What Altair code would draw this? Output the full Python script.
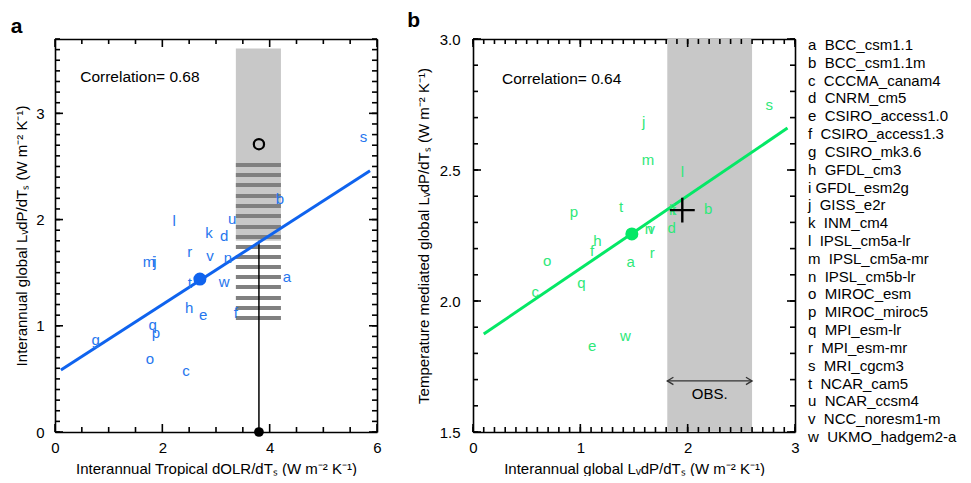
import altair as alt
import pandas as pd

FONT = "Liberation Sans"
BLUE_LINE = "#0f63ee"
BLUE_TXT = "#2676ee"
GREEN_LINE = "#05e866"
GREEN_TXT = "#2ee879"
BAND = "#c8c8c8"
STRIPE = "#808080"

letters = list("abcdefghijklmnopqrstuvw")
models = ["BCC_csm1.1", "BCC_csm1.1m", "CCCMA_canam4", "CNRM_cm5", "CSIRO_access1.0",
          "CSIRO_access1.3", "CSIRO_mk3.6", "GFDL_cm3", "GFDL_esm2g", "GISS_e2r", "INM_cm4",
          "IPSL_cm5a-lr", "IPSL_cm5a-mr", "IPSL_cm5b-lr", "MIROC_esm", "MIROC_miroc5",
          "MPI_esm-lr", "MPI_esm-mr", "MRI_cgcm3", "NCAR_cam5", "NCAR_ccsm4", "NCC_noresm1-m",
          "UKMO_hadgem2-a"]

# Panel a: interannual tropical dOLR/dTs vs interannual global LvdP/dTs
a_olr = [4.32, 4.19, 2.44, 3.15, 2.76, 3.37, 0.76, 2.50, 1.84, 1.86, 2.87, 2.22,
         1.75, 3.22, 1.77, 1.88, 1.82, 2.51, 5.75, 2.51, 3.30, 2.89, 3.15]
a_dp = [1.46, 2.19, 0.57, 1.85, 1.10, 1.12, 0.87, 1.17, 1.60, 1.60, 1.87, 1.99,
        1.60, 1.64, 0.69, 0.93, 1.01, 1.69, 2.78, 1.40, 2.01, 1.66, 1.41]
a_line_x = [0.11, 5.87]
a_line_y = [0.584, 2.46]
a_mean = [2.70, 1.44]
a_obs_x = 3.80
a_obs_circle_y = 2.71
a_obs_cross_y = 1.80
a_band_x = [3.37, 4.21]
a_band_y = [1.80, 3.61]
a_stripe_y = [2.514, 2.420, 2.326, 2.222, 2.128, 2.034, 1.930, 1.836, 1.742, 1.648,
              1.554, 1.460, 1.365, 1.262, 1.168, 1.073]
a_corr = "Correlation= 0.68"
a_corr_pos = [0.47, 3.34]

# Panel b: interannual global LvdP/dTs vs temperature mediated LvdP/dTs
b_dp = [1.47, 2.19, 0.58, 1.85, 1.11, 1.11, None, 1.16, 1.87, 1.59, 1.86, 1.95,
        1.63, 1.64, 0.69, 0.94, 1.01, 1.67, 2.76, 1.38, None, 1.66, 1.42]
b_temp = [2.149, 2.351, 2.034, 2.279, 1.828, 2.190, None, 2.229, 2.347, 2.683, 2.347, 2.492,
          2.538, 2.275, 2.153, 2.340, 2.069, 2.183, 2.748, 2.359, None, 2.275, 1.866]
b_line_x = [0.10, 2.93]
b_line_y = [1.874, 2.66]
b_mean = [1.48, 2.256]
b_obs = [1.95, 2.347]
b_band_x = [1.81, 2.60]
b_arrow_y = 1.695
b_obs_text_y = 1.645
b_corr = "Correlation= 0.64"
b_corr_pos = [0.27, 2.847]

xa_major = [0, 2, 4, 6]
xa_minor = [0.5, 1, 1.5, 2.5, 3, 3.5, 4.5, 5, 5.5]
ya_major = [0, 1, 2, 3]
ya_minor = [round(i * 0.1, 1) for i in range(38)]
xb_major = [0, 1, 2, 3]
xb_minor = [round(i * 0.1, 1) for i in range(31)]
yb_major = [1.5, 2.0, 2.5, 3.0]
yb_minor = [round(1.5 + i * 0.1, 1) for i in range(16)]

XA_TITLE = "Interannual Tropical dOLR/dTₛ (W m⁻² K⁻¹)"
YA_TITLE = "Interannual global LᵥdP/dTₛ (W m⁻² K⁻¹)"
XB_TITLE = "Interannual global LᵥdP/dTₛ (W m⁻² K⁻¹)"
YB_TITLE = "Temperature mediated global LᵥdP/dTₛ (W m⁻² K⁻¹)"

W, H = 322, 393
LS = 15  # label font size
MAJ, MIN = 8, 5
TW = 1.6


def label_axis(orient, vals, title, fmt=None, lpad=0, tpad=0):
    p = dict(orient=orient, values=vals, grid=False, ticks=False, domain=True,
             domainColor="black", domainWidth=1.6, labels=True,
             labelFont=FONT, labelFontSize=LS, labelColor="black",
             labelPadding=lpad, labelFlush=False,
             title=title, titleFont=FONT, titleFontSize=15, titleColor="black",
             titleFontWeight="normal", titlePadding=tpad)
    if fmt:
        p["format"] = fmt
    return alt.Axis(**p)


def frame_axis(orient):
    return alt.Axis(orient=orient, ticks=False, labels=False, grid=False, domain=True,
                    domainColor="black", domainWidth=1.6, title=None)


def tick_layers(xmaj, xmin, ymaj, ymin, XS, YS):
    out = []
    for vals, ln in [(xmin, MIN), (xmaj, MAJ)]:
        df = pd.DataFrame({"tv": vals})
        out.append(alt.Chart(df).mark_rule(color="black", strokeWidth=TW).encode(
            x=alt.X("tv:Q", scale=XS, axis=None), y=alt.value(H), y2=alt.value(H - ln)))
        out.append(alt.Chart(df).mark_rule(color="black", strokeWidth=TW).encode(
            x=alt.X("tv:Q", scale=XS, axis=None), y=alt.value(0), y2=alt.value(ln)))
    for vals, ln in [(ymin, MIN), (ymaj, MAJ)]:
        df = pd.DataFrame({"tv": vals})
        out.append(alt.Chart(df).mark_rule(color="black", strokeWidth=TW).encode(
            y=alt.Y("tv:Q", scale=YS, axis=None), x=alt.value(0), x2=alt.value(ln)))
        out.append(alt.Chart(df).mark_rule(color="black", strokeWidth=TW).encode(
            y=alt.Y("tv:Q", scale=YS, axis=None), x=alt.value(W), x2=alt.value(W - ln)))
    return out


def panel_title(t, color="black", dx=0):
    return alt.TitleParams(t, anchor="start", frame="bounds", fontSize=21, fontWeight="bold",
                           font=FONT, color=color, offset=1, dx=dx)


NOSTROKE = alt.ViewBackground(strokeWidth=0)

# ---------------- panel a ----------------
XA = alt.Scale(domain=[0, 6], nice=False, zero=False)
YA = alt.Scale(domain=[0, 3.7], nice=False, zero=False)

pts_a = pd.DataFrame({"letter": letters, "x": a_olr, "y": a_dp})
band_a_df = pd.DataFrame({"x": [a_band_x[0]], "x2": [a_band_x[1]], "y": [a_band_y[0]], "y2": [a_band_y[1]]})
stripes_df = pd.DataFrame({"y": a_stripe_y, "x": a_band_x[0], "x2": a_band_x[1]})
line_a_df = pd.DataFrame({"x": a_line_x, "y": a_line_y})

band_a = alt.Chart(band_a_df).mark_rect(color=BAND).encode(
    x=alt.X("x:Q", scale=XA, axis=label_axis("bottom", xa_major, XA_TITLE, lpad=8, tpad=6)),
    x2="x2:Q",
    y=alt.Y("y:Q", scale=YA, axis=label_axis("left", ya_major, YA_TITLE, lpad=11, tpad=6)),
    y2="y2:Q")
stripes = alt.Chart(stripes_df).mark_rule(color=STRIPE, strokeWidth=4).encode(
    x=alt.X("x:Q", scale=XA, axis=None), x2="x2:Q",
    y=alt.Y("y:Q", scale=YA, axis=None))
vline = alt.Chart(pd.DataFrame({"x": [a_obs_x], "y": [0], "y2": [a_obs_cross_y]})).mark_rule(
    color="black", strokeWidth=1.5).encode(
    x=alt.X("x:Q", scale=XA, axis=None), y=alt.Y("y:Q", scale=YA, axis=None), y2="y2:Q")
line_a = alt.Chart(line_a_df).mark_line(color=BLUE_LINE, strokeWidth=3).encode(
    x=alt.X("x:Q", scale=XA, axis=frame_axis("top")),
    y=alt.Y("y:Q", scale=YA, axis=frame_axis("right")))
txt_a = alt.Chart(pts_a).mark_text(color=BLUE_TXT, fontSize=15, font=FONT).encode(
    x=alt.X("x:Q", scale=XA, axis=None), y=alt.Y("y:Q", scale=YA, axis=None), text="letter:N")
mean_a = alt.Chart(pd.DataFrame({"x": [a_mean[0]], "y": [a_mean[1]]})).mark_circle(
    color=BLUE_LINE, size=170, opacity=1).encode(
    x=alt.X("x:Q", scale=XA, axis=None), y=alt.Y("y:Q", scale=YA, axis=None))
circ_a = alt.Chart(pd.DataFrame({"x": [a_obs_x], "y": [a_obs_circle_y]})).mark_point(
    shape="circle", filled=False, color="black", strokeWidth=2.2, size=105, opacity=1).encode(
    x=alt.X("x:Q", scale=XA, axis=None), y=alt.Y("y:Q", scale=YA, axis=None))
bdot_a = alt.Chart(pd.DataFrame({"x": [a_obs_x], "y": [0]})).mark_circle(
    color="black", size=95, opacity=1).encode(
    x=alt.X("x:Q", scale=XA, axis=None), y=alt.Y("y:Q", scale=YA, axis=None))
corr_a = alt.Chart(pd.DataFrame({"x": [a_corr_pos[0]], "y": [a_corr_pos[1]], "t": [a_corr]})).mark_text(
    align="left", baseline="middle", fontSize=15.5, font=FONT, color="black").encode(
    x=alt.X("x:Q", scale=XA, axis=None), y=alt.Y("y:Q", scale=YA, axis=None), text="t:N")

pa = alt.layer(band_a, *tick_layers(xa_major, xa_minor, ya_major, ya_minor, XA, YA),
               stripes, vline, line_a, txt_a, mean_a, circ_a, bdot_a, corr_a).resolve_axis(
    x="independent", y="independent").properties(width=W, height=H, view=NOSTROKE,
                                                 title=panel_title("a", dx=-4))

# ---------------- panel b ----------------
XB = alt.Scale(domain=[0, 3], nice=False, zero=False)
YB = alt.Scale(domain=[1.5, 3.0], nice=False, zero=False)

pts_b = pd.DataFrame({"letter": letters, "x": b_dp, "y": b_temp}).dropna()
band_b_df = pd.DataFrame({"x": [b_band_x[0]], "x2": [b_band_x[1]], "y": [1.5], "y2": [3.0]})
line_b_df = pd.DataFrame({"x": b_line_x, "y": b_line_y})

band_b = alt.Chart(band_b_df).mark_rect(color=BAND).encode(
    x=alt.X("x:Q", scale=XB, axis=label_axis("bottom", xb_major, XB_TITLE, lpad=8, tpad=6)),
    x2="x2:Q",
    y=alt.Y("y:Q", scale=YB, axis=label_axis("left", yb_major, YB_TITLE, fmt=".1f", lpad=13, tpad=8)),
    y2="y2:Q")
line_b = alt.Chart(line_b_df).mark_line(color=GREEN_LINE, strokeWidth=3).encode(
    x=alt.X("x:Q", scale=XB, axis=frame_axis("top")),
    y=alt.Y("y:Q", scale=YB, axis=frame_axis("right")))
txt_b = alt.Chart(pts_b).mark_text(color=GREEN_TXT, fontSize=15, font=FONT).encode(
    x=alt.X("x:Q", scale=XB, axis=None), y=alt.Y("y:Q", scale=YB, axis=None), text="letter:N")
mean_b = alt.Chart(pd.DataFrame({"x": [b_mean[0]], "y": [b_mean[1]]})).mark_circle(
    color=GREEN_LINE, size=170, opacity=1).encode(
    x=alt.X("x:Q", scale=XB, axis=None), y=alt.Y("y:Q", scale=YB, axis=None))
cross_b = alt.Chart(pd.DataFrame({"x": [b_obs[0]], "y": [b_obs[1]]})).mark_point(
    shape="M-1,0L1,0M0,-1L0,1", filled=False, color="black", strokeWidth=2.4, size=620, opacity=1).encode(
    x=alt.X("x:Q", scale=XB, axis=None), y=alt.Y("y:Q", scale=YB, axis=None))
arrow_b = alt.Chart(pd.DataFrame({"x": [b_band_x[0]], "x2": [b_band_x[1]], "y": [b_arrow_y]})).mark_rule(
    color="#333333", strokeWidth=1.3).encode(
    x=alt.X("x:Q", scale=XB, axis=None), x2="x2:Q", y=alt.Y("y:Q", scale=YB, axis=None))
heads_df = pd.DataFrame({"x": b_band_x, "y": [b_arrow_y, b_arrow_y], "side": ["l", "r"]})
head_l = alt.Chart(heads_df[heads_df.side == "l"]).mark_point(
    shape="M1,-0.6L0,0L1,0.6", filled=False, color="#333333", strokeWidth=1.3, size=150, opacity=1).encode(
    x=alt.X("x:Q", scale=XB, axis=None), y=alt.Y("y:Q", scale=YB, axis=None))
head_r = alt.Chart(heads_df[heads_df.side == "r"]).mark_point(
    shape="M-1,-0.6L0,0L-1,0.6", filled=False, color="#333333", strokeWidth=1.3, size=150, opacity=1).encode(
    x=alt.X("x:Q", scale=XB, axis=None), y=alt.Y("y:Q", scale=YB, axis=None))
obs_txt = alt.Chart(pd.DataFrame({"x": [(b_band_x[0] + b_band_x[1]) / 2], "y": [b_obs_text_y], "t": ["OBS."]})).mark_text(
    baseline="middle", fontSize=15, font=FONT, color="black").encode(
    x=alt.X("x:Q", scale=XB, axis=None), y=alt.Y("y:Q", scale=YB, axis=None), text="t:N")
corr_b = alt.Chart(pd.DataFrame({"x": [b_corr_pos[0]], "y": [b_corr_pos[1]], "t": [b_corr]})).mark_text(
    align="left", baseline="middle", fontSize=15.5, font=FONT, color="black").encode(
    x=alt.X("x:Q", scale=XB, axis=None), y=alt.Y("y:Q", scale=YB, axis=None), text="t:N")

pb = alt.layer(band_b, *tick_layers(xb_major, xb_minor, yb_major, yb_minor, XB, YB),
               line_b, txt_b, mean_b, cross_b, arrow_b, head_l, head_r, obs_txt, corr_b).resolve_axis(
    x="independent", y="independent").properties(width=W, height=H, view=NOSTROKE,
                                                 title=panel_title("b", dx=-9))

# ---------------- legend ----------------
leg_df = pd.DataFrame({
    "letter": letters,
    "label": [l + ("\u00a0" if l == "i" else "\u00a0\u00a0") + m for l, m in zip(letters, models)],
})
legend = alt.Chart(leg_df).mark_text(align="left", baseline="middle", fontSize=15, font=FONT,
                                     color="black", dy=6).encode(
    x=alt.value(0),
    y=alt.Y("letter:N", sort=letters, scale=alt.Scale(type="point", padding=0), axis=None),
    text="label:N").properties(width=150, height=392, view=NOSTROKE,
                               title=panel_title("a", color="white"))

chart = alt.hconcat(alt.hconcat(pa, pb, spacing=25), legend, spacing=8).properties(
    padding={"left": 2, "top": 2, "right": 0, "bottom": 0})

chart.save("out.html", embed_options={"renderer": "svg", "actions": False})
